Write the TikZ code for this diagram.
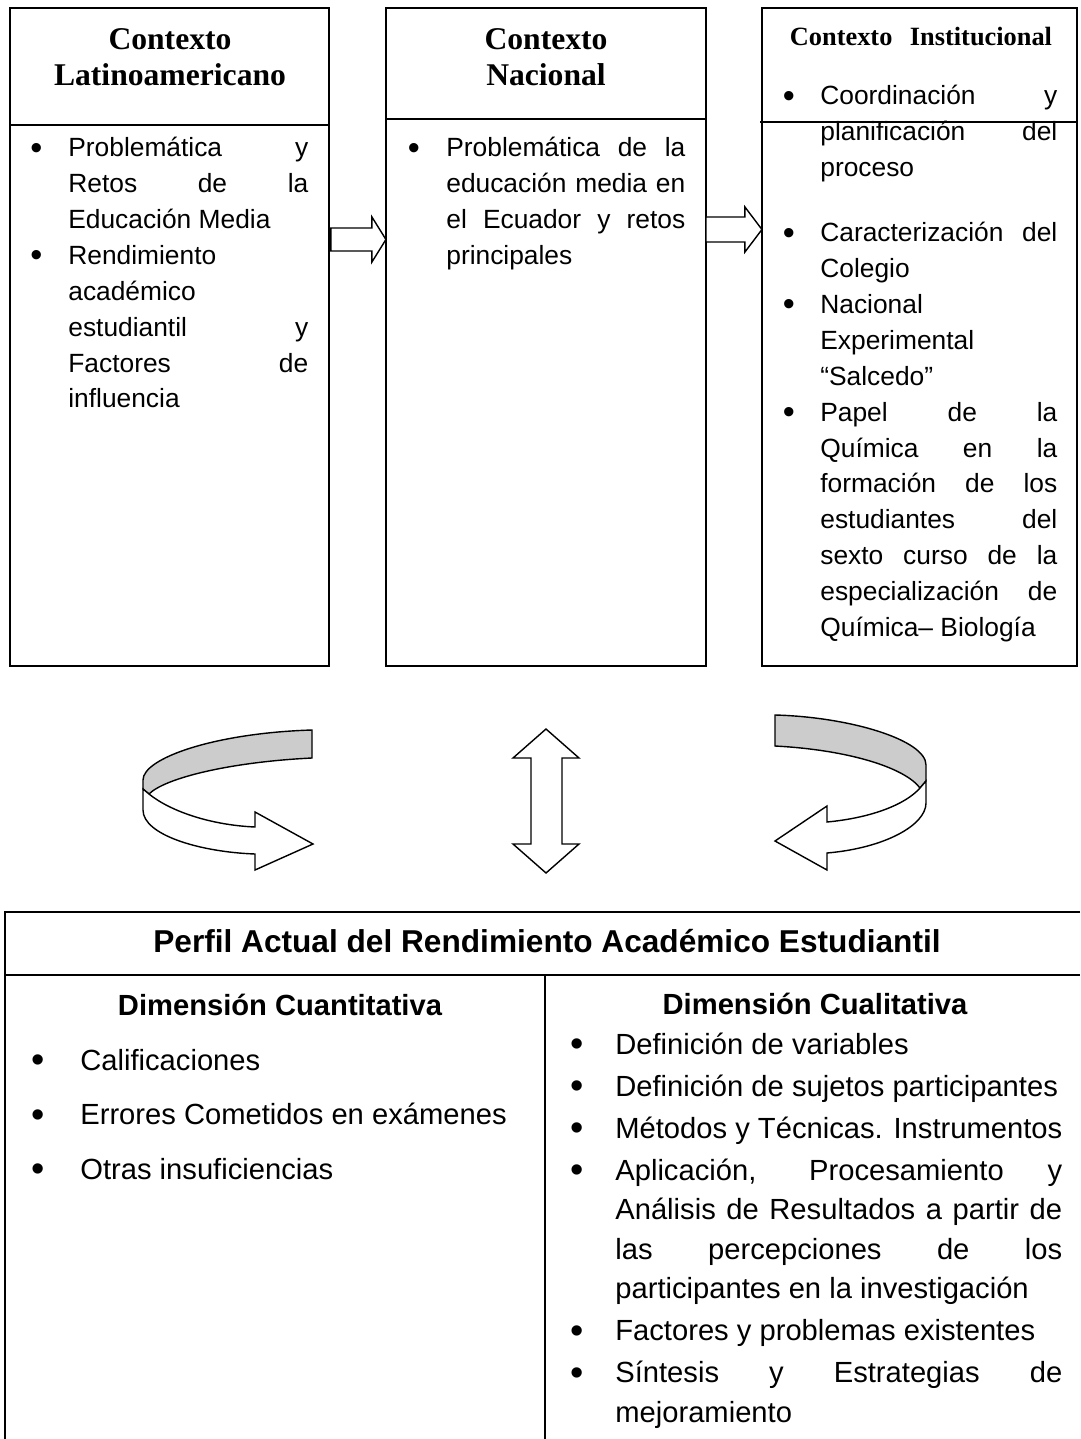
\documentclass[tikz,border=0pt]{standalone}
\usepackage{fontspec}
\setmainfont{Liberation Serif}
\setsansfont{Liberation Sans}
\usetikzlibrary{calc}

\tikzset{
  box/.style={draw, line width=1pt, inner sep=0, outer sep=0, anchor=north west},
  ttl/.style={font=\rmfamily\bfseries\fontsize{18}{20.4}\selectfont, text width=6cm, align=center, inner sep=0, anchor=base},
  txt/.style={font=\sffamily\fontsize{15}{20.4}\selectfont, text width=4.8cm, align=justify, inner sep=0, anchor=base west},
  bigtxt/.style={font=\sffamily\fontsize{16.6}{22.4}\selectfont, align=justify, inner sep=0, anchor=base west},
  dimttl/.style={font=\sffamily\bfseries\fontsize{16.6}{20}\selectfont, inner sep=0, anchor=base},
  flecha/.style={draw, line width=0.8pt, fill=white},
}
\newcommand{\bul}[1]{\leavevmode\llap{\raisebox{-0.08em}{\scalebox{1.3}{\textbullet}}\hskip #1}}

\begin{document}
\begin{tikzpicture}[x=0.02cm, y=-0.02cm]
\useasboundingbox (0,0) rectangle (1080,1439);

% context boxes
\node[box, minimum width=6.38cm, minimum height=13.16cm] (lat) at (10,8) {};
\node[box, minimum width=6.4cm, minimum height=13.16cm] (nac) at (386,8) {};
\node[box, minimum width=6.3cm, minimum height=13.16cm] (inst) at (762,8) {};
\draw[line width=1pt] ($(lat.north west)+(0,117)$) -- ($(lat.north east)+(0,117)$);
\draw[line width=1pt] ($(nac.north west)+(0,111)$) -- ($(nac.north east)+(0,111)$);
\draw[line width=1pt] ($(inst.north west)+(-2,114)$) -- ($(inst.north east)+(0,114)$);

\node[ttl] (tlat) at (170,50) {Contexto\\Latinoamericano};
\node[ttl] (tnac) at (546,50) {Contexto\\Nacional};
\node[ttl, font=\rmfamily\bfseries\fontsize{15}{18}\selectfont] (tinst) at (921,46) {Contexto\ \ Institucional};

\node[txt] (blat) at (68,157) {\bul{0.52cm}Problemática y\linebreak Retos de la\linebreak Educación Media\par
  \bul{0.52cm}Rendimiento\linebreak académico\linebreak estudiantil y\linebreak Factores de\linebreak influencia};
\node[txt, text width=4.78cm] (bnac) at (446,157) {\bul{0.53cm}Problemática de la\linebreak educación media en\linebreak el Ecuador y retos\linebreak principales};
\node[txt, text width=4.74cm] (binst) at (820,105) {\bul{0.51cm}Coordinación y\linebreak planificación del\linebreak proceso};
\node[txt, text width=4.74cm] (binst2) at (820,242) {\bul{0.51cm}Caracterización del\linebreak Colegio\par
  \bul{0.51cm}Nacional\linebreak Experimental\linebreak “Salcedo”\par
  \bul{0.51cm}Papel de la\linebreak Química en la\linebreak formación de los\linebreak estudiantes del\linebreak sexto curso de la\linebreak especialización de\linebreak Química– Biología};

% block arrows between boxes
\draw[flecha] ($(lat.north east)+(2,220)$) -- ++(41,0) -- ++(0,-11) -- ++(14,22.5) -- ++(-14,22.5) -- ++(0,-11) -- ++(-41,0) -- cycle;
\draw[flecha] ($(nac.north east)+(0,209)$) -- ++(39,0) -- ++(0,-10) -- ++(17,22.5) -- ++(-17,22.5) -- ++(0,-10) -- ++(-39,0) -- cycle;

% curved arrows
\filldraw[line width=0.8pt, fill=gray!40] (312,730) .. controls (215,733) and (143,758) .. (143,780) -- (143,789) -- (149,794) .. controls (165,778) and (230,762) .. (312,758) -- cycle;
\draw[flecha] (149,794) .. controls (170,811) and (210,825) .. (255,827) -- (255,812) -- (313,844) -- (255,870) -- (255,854) .. controls (200,852) and (143,835) .. (143,810) -- (143,789) -- cycle;

\filldraw[line width=0.8pt, fill=gray!40] (775,715) .. controls (850,717) and (926,740) .. (926,765) -- (926,781) -- (920,788) .. controls (905,768) and (850,750) .. (775,746) -- cycle;
\draw[flecha] (920,788) .. controls (905,805) and (870,818) .. (827,822) -- (827,806) -- (775,841) -- (827,870) -- (827,853) .. controls (885,848) and (926,825) .. (926,803) -- (926,781) -- cycle;

\draw[flecha] (546,729) -- (579,758) -- (562,758) -- (562,844) -- (579,844) -- (546,873) -- (513,844) -- (531,844) -- (531,758) -- (513,758) -- cycle;

% bottom table
\draw[line width=1pt] (1080,912) -- (5,912) -- (5,1439);
\draw[line width=1pt] (5,975) -- (1080,975);
\draw[line width=1pt] (545,975) -- (545,1439);

\node[dimttl, font=\sffamily\bfseries\fontsize{18}{22}\selectfont] (perfil) at (547,952) {Perfil Actual del Rendimiento Académico Estudiantil};
\node[dimttl] (cuan) at (280,1015) {Dimensión Cuantitativa};
\node[dimttl] (cual) at (815,1014) {Dimensión Cualitativa};

\node[bigtxt, text width=9cm] (lcuan) at (80,1070) {\setlength{\parskip}{8.8pt}\bul{0.72cm}Calificaciones\par
  \bul{0.72cm}Errores Cometidos en exámenes\par
  \bul{0.72cm}Otras insuficiencias};
\node[bigtxt, text width=8.94cm] (lcual) at (615,1054) {\setlength{\parskip}{1.6pt}\bul{0.64cm}Definición de variables\par
  \bul{0.64cm}Definición de sujetos participantes\par
  \bul{0.64cm}Métodos y Técnicas. Instrumentos\par
  \bul{0.64cm}Aplicación, Procesamiento y\linebreak Análisis de Resultados a partir de\linebreak las percepciones de los\linebreak participantes en la investigación\par
  \bul{0.64cm}Factores y problemas existentes\par
  \bul{0.64cm}Síntesis y Estrategias de\linebreak mejoramiento};
\end{tikzpicture}
\end{document}
